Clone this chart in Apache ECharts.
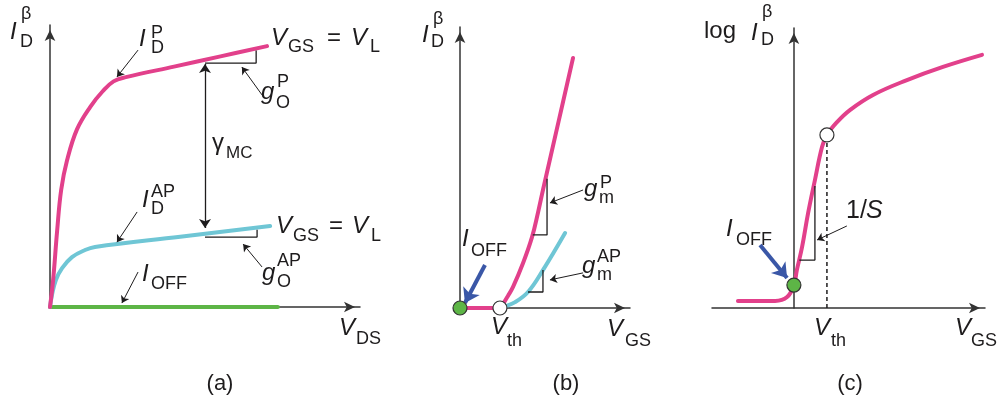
<!DOCTYPE html>
<html>
<head>
<meta charset="utf-8">
<script src="https://cdn.jsdelivr.net/npm/echarts@6/dist/echarts.min.js"></script>
<style>
  html, body { margin: 0; padding: 0; background: #ffffff; }
  #chart { width: 1003px; height: 405px; }
</style>
</head>
<body>
<div id="chart"></div>
<script>
// ---- (a) output characteristics, I_D vs V_DS ----
const outP   = [[0,0],[0.1,0.95],[0.23,2.7],[0.36,4.15],[0.55,5.2],[0.87,6.3],[1.3,7.1],[1.7,7.65],[2.05,8.0],[2.45,8.15],[4.0,8.525],[5.5,8.887],[7.0,9.25]];
const outAP  = [[0,0],[0.065,0.43],[0.19,0.96],[0.39,1.38],[0.71,1.77],[1.13,2.02],[1.45,2.13],[4.2,2.49],[7.1,2.87]];
const outOff = [[0,0],[7.35,0]];
const slopeOP  = [[5.0,8.65],[6.65,8.65],[6.65,9.1]];
const slopeOAP = [[5.0,2.48],[6.68,2.48],[6.68,2.74]];
const gammaMC  = [[5.0,8.62],[5.0,2.8]];
const ptrA = [
  [[2.84,9.11],[2.16,8.16]],   // I_D^P
  [[6.84,7.52],[6.19,8.51]],   // g_O^P
  [[2.81,3.37],[2.16,2.30]],   // I_D^AP
  [[6.84,1.42],[6.23,2.23]],   // g_O^AP
  [[2.84,1.24],[2.32,0.14]]    // I_OFF
];

// ---- (b) transfer characteristics, linear current ----
const trP  = [[0,0],[2.35,0],[2.53,0.14],[2.82,0.43],[3.12,0.75],[3.71,1.6],[4.24,2.53],[4.59,3.4],[4.88,4.2],[5.8,6.64],[6.65,8.9]];
const trAP = [[2.35,0],[2.6,0.05],[3.24,0.21],[4.0,0.57],[4.88,1.35],[6.18,2.67]];
const slopeMP  = [[4.28,2.6],[5.12,2.6],[5.12,4.6]];
const slopeMAP = [[4.0,0.57],[4.88,0.57],[4.88,1.35]];
const ptrB = [
  [[7.24,4.2],[5.29,3.74]],    // g_m^P
  [[7.24,1.25],[5.29,1.0]]     // g_m^AP
];
const offB = [[1.47,1.53],[0.29,0.18]];
const offPointB = [0,0];
const vthPointB = [2.35,0];

// ---- (c) transfer characteristic, log current ----
const logP = [[-2.05,0.25],[-0.69,0.25],[-0.25,0.39],[0,0.82],[0.11,1.36],[0.3,2.18],[0.52,3.39],[0.77,4.57],[1.03,5.75],[1.21,6.18],[1.58,6.64],[2.05,7.07],[2.9,7.61],[4.14,8.14],[5.46,8.61],[6.89,9.04]];
const vthC = 1.21;
const vthLine = [[vthC,0],[vthC,6.18]];
const slopeS = [[0.2,1.71],[0.77,1.71],[0.77,4.36]];
const ptrC = [[[1.94,2.93],[0.85,2.43]]];   // 1/S
const offC = [[-1.24,2.25],[-0.25,1.07]];
const offPointC = [0,0.82];
const vthPointC = [vthC,6.18];

// ---- text: [string, left x, baseline y, size, italic] ----
const M = 24, S = 18;
const labels = [
  // (a)
  ['I',10,41,M,1],['\u03b2',21,20,S,0],['D',20,48,S,0],
  ['I',139,48,M,1],['P',151,39,S,0],['D',151,54,S,0],
  ['V',271,47,M,1],['GS',288,53,S,0],['=',327,47,M,0],['V',351,47,M,1],['L',370,53,S,0],
  ['g',261,101,M,1],['P',277,88,S,0],['O',276,109,S,0],
  ['\u03b3',212,152,M,0],['MC',226,159,17,0],
  ['I',142,209,M,1],['AP',151,198,S,0],['D',151,215,S,0],
  ['V',276,235,M,1],['GS',293,242,S,0],['=',329,235,M,0],['V',352,235,M,1],['L',371,242,S,0],
  ['g',262,282,M,1],['AP',277,267,S,0],['O',277,288,S,0],
  ['I',142,283,M,1],['OFF',151,290,S,0],
  ['V',339,337,M,1],['DS',356,345,S,0],
  // (b)
  ['I',422,44,M,1],['\u03b2',433,25,S,0],['D',431,48,S,0],
  ['I',462,248,M,1],['OFF',471,257,S,0],
  ['g',584,198,M,1],['P',600,189,S,0],['m',599,204,S,0],
  ['g',582,275,M,1],['AP',597,263,S,0],['m',597,281,S,0],
  ['V',491,336,M,1],['th',507,347,S,0],
  ['V',607,338,M,1],['GS',625,347,S,0],
  // (c)
  ['log',704,40,M,0],['I',751,42,M,1],['\u03b2',762,18,S,0],['D',761,46,S,0],
  ['I',726,238,M,1],['OFF',736,246,S,0],
  ['1/',846,220,25,0],['S',866,220,25,1],
  ['V',814,337,M,1],['th',831,347,S,0],
  ['V',955,337,M,1],['GS',971,347,S,0]
];
const captions = [['(a)',220],['(b)',566],['(c)',850]];

const INK = '#1e1c1d', PINK = '#e2408b', CYAN = '#6fc6d5', GREEN = '#5db546', BLUE = '#3a57a7';
const FONT = '"Liberation Sans", Arial, Helvetica, sans-serif';

const grids = [
  { left: 50,  top: 25, width: 310, height: 282 },
  { left: 460, top: 27, width: 170, height: 281 },
  { left: 712, top: 28, width: 273, height: 280 }
];
const xRanges = [[0,10],[0,10],[-3,7]];

function axis(g, range) {
  return {
    gridIndex: g, type: 'value', min: range[0], max: range[1],
    axisLine: { show: true, onZero: true, symbol: ['none','arrow'], symbolSize: [8,11], symbolOffset: [0,-5],
                lineStyle: { color: '#333', width: 1.5 } },
    axisTick: { show: false }, axisLabel: { show: false }, splitLine: { show: false }
  };
}

function curve(g, data, color, width, z, smooth) {
  return { type: 'line', xAxisIndex: g, yAxisIndex: g, data: data, showSymbol: false, symbol: 'none',
           smooth: smooth === undefined ? 0.4 : smooth, silent: true, z: z,
           lineStyle: { color: color, width: width, cap: 'round', join: 'round' } };
}
function thin(g, data, z) {
  return { type: 'line', xAxisIndex: g, yAxisIndex: g, data: data, showSymbol: false, symbol: 'none',
           silent: true, z: z || 3, lineStyle: { color: INK, width: 1.3 } };
}
function arrows(g, pairs, color, width, size, both, z) {
  return { type: 'lines', coordinateSystem: 'cartesian2d', xAxisIndex: g, yAxisIndex: g, silent: true,
           symbol: both ? ['arrow','arrow'] : ['none','arrow'], symbolSize: size, z: z || 4,
           lineStyle: { color: color, width: width, opacity: 1, curveness: 0 },
           data: pairs.map(p => ({ coords: p })) };
}
function dot(g, pt, fill, z) {
  return { type: 'scatter', xAxisIndex: g, yAxisIndex: g, data: [pt], symbol: 'circle', symbolSize: 14,
           silent: true, z: z || 6, itemStyle: { color: fill, borderColor: '#333', borderWidth: 1.2, opacity: 1 } };
}

const series = [
  // (a)
  curve(0, outOff, GREEN, 4, 2, false),
  curve(0, outAP, CYAN, 4, 3),
  curve(0, outP, PINK, 4, 3),
  thin(0, slopeOP), thin(0, slopeOAP),
  arrows(0, [gammaMC], INK, 1.3, 9, true),
  arrows(0, ptrA, INK, 1, 7, false),
  // (b)
  curve(1, trAP, CYAN, 4, 3),
  curve(1, trP, PINK, 4, 3),
  thin(1, slopeMP), thin(1, slopeMAP),
  arrows(1, ptrB, INK, 1, 7, false),
  arrows(1, [offB], BLUE, 4, 14, false, 5),
  dot(1, offPointB, GREEN), dot(1, vthPointB, '#ffffff'),
  // (c)
  { type: 'line', xAxisIndex: 2, yAxisIndex: 2, data: vthLine, showSymbol: false, symbol: 'none', silent: true, z: 2,
    lineStyle: { color: INK, width: 1.5, type: [4,3] } },
  curve(2, logP, PINK, 4, 3),
  thin(2, slopeS),
  arrows(2, ptrC, INK, 1, 7, false),
  arrows(2, [offC], BLUE, 4, 14, false, 5),
  dot(2, offPointC, GREEN), dot(2, vthPointC, '#ffffff')
];

const graphic = labels.map(([s, x, base, size, it]) => ({
  type: 'text', x: x, y: base - 0.35 * size, silent: true, z: 100,
  style: { text: s, fill: INK, fontSize: size, fontFamily: FONT, fontStyle: it ? 'italic' : 'normal',
           align: 'left', verticalAlign: 'middle' }
})).concat(captions.map(([s, cx]) => ({
  type: 'text', x: cx, y: 384, silent: true, z: 100,
  style: { text: s, fill: INK, fontSize: 22, fontFamily: FONT, align: 'center', verticalAlign: 'middle' }
})));

const chart = echarts.init(document.getElementById('chart'), null, { renderer: 'canvas' });
chart.setOption({
  animation: false,
  backgroundColor: '#ffffff',
  grid: grids,
  xAxis: grids.map((_, i) => axis(i, xRanges[i])),
  yAxis: grids.map((_, i) => axis(i, [0,10])),
  series: series,
  graphic: graphic
});
</script>
</body>
</html>
